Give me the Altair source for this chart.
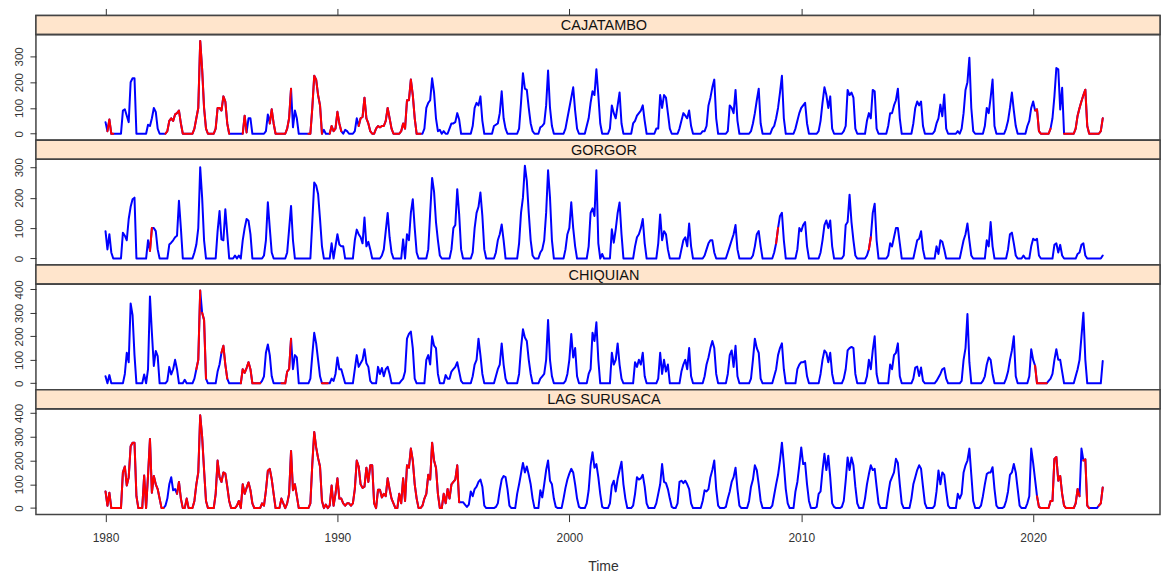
import altair as alt
import pandas as pd

START_YEAR = 1980
STATIONS = ["CAJATAMBO", "GORGOR", "CHIQUIAN", "LAG  SURUSACA"]
X_TICKS = [1980, 1990, 2000, 2010, 2020]
Y_TICKS = [[0, 100, 200, 300], [0, 100, 200, 300], [0, 100, 200, 300, 400], [0, 100, 200, 300, 400]]

# monthly precipitation, Jan 1980 .. Jan 2023 (one row per year)
CAJATAMBO = [
    45, 10, 55, 0, 0, 0, 0, 0, 0, 90, 95, 70,
    45, 200, 215, 215, 0, 0, 0, 0, 0, 0, 35, 30,
    60, 100, 85, 20, 0, 0, 0, 0, 10, 50, 60, 50,
    75, 80, 90, 40, 0, 0, 0, 0, 0, 0, 20, 60,
    100, 360, 250, 100, 20, 0, 0, 0, 0, 20, 100, 100,
    90, 145, 125, 40, 0, 0, 0, 0, 0, 0, 0, 0,
    70, 5, 60, 60, 0, 0, 0, 0, 0, 0, 0, 10,
    75, 40, 95, 40, 0, 0, 0, 0, 0, 0, 20, 60,
    175, 25, 90, 60, 0, 0, 0, 0, 0, 0, 0, 100,
    225, 210, 150, 110, 0, 15, 0, 0, 0, 30, 10, 20,
    85, 40, 10, 0, 15, 10, 0, 0, 0, 10, 60, 30,
    60, 65, 140, 60, 40, 10, 0, 0, 20, 30, 25, 30,
    30, 50, 100, 60, 20, 0, 0, 0, 0, 10, 40, 20,
    130, 130, 210, 150, 60, 0, 0, 0, 0, 20, 100, 120,
    130, 215, 160, 60, 10, 15, 0, 10, 0, 0, 20, 40,
    40, 45, 80, 55, 0, 0, 0, 0, 0, 0, 30, 100,
    120, 110, 145, 50, 0, 0, 0, 0, 0, 30, 35, 40,
    80, 165, 60, 20, 0, 0, 0, 0, 0, 0, 20, 120,
    235, 175, 170, 100, 40, 10, 0, 0, 0, 25, 30, 40,
    110, 245, 100, 30, 0, 0, 0, 0, 0, 0, 20, 60,
    100, 140, 180, 90, 20, 0, 0, 0, 0, 30, 60, 120,
    165, 150, 250, 150, 40, 0, 0, 0, 0, 20, 110, 80,
    60, 110, 160, 40, 0, 0, 0, 0, 0, 40, 50, 70,
    80, 90, 110, 50, 0, 0, 0, 0, 0, 20, 20, 150,
    100, 150, 140, 80, 20, 0, 0, 0, 0, 20, 50, 80,
    70, 60, 90, 30, 0, 0, 0, 0, 0, 10, 10, 30,
    110, 140, 180, 210, 60, 0, 0, 0, 0, 0, 10, 110,
    100, 80, 170, 50, 0, 0, 0, 0, 0, 0, 10, 40,
    80, 130, 175, 40, 0, 0, 0, 0, 0, 20, 30, 60,
    100, 160, 225, 60, 0, 0, 0, 0, 0, 20, 50, 80,
    100, 110, 120, 40, 0, 0, 0, 0, 0, 10, 50, 120,
    180, 150, 100, 145, 20, 0, 0, 0, 0, 0, 10, 30,
    170, 150, 160, 140, 20, 0, 0, 0, 0, 0, 50, 80,
    60, 170, 165, 20, 0, 0, 0, 0, 0, 30, 80, 80,
    110, 130, 175, 60, 0, 0, 0, 0, 0, 0, 40, 100,
    125, 110, 125, 30, 0, 0, 0, 0, 0, 10, 40, 60,
    113, 68, 152, 20, 0, 0, 0, 0, 0, 10, 0, 20,
    80, 170, 200, 295, 100, 10, 0, 0, 0, 0, 0, 30,
    100, 80, 140, 210, 30, 0, 0, 0, 0, 0, 20, 50,
    100, 160, 90, 30, 0, 0, 0, 0, 0, 30, 50, 100,
    125, 90, 95, 10, 0, 0, 0, 0, 0, 20, 60, 145,
    255, 250, 94, 178, 0, 0, 0, 0, 0, 0, 20, 70,
    100, 126, 150, 171, 30, 0, 0, 0, 0, 0, 0, 10,
    60,
]

GORGOR = [
    90, 30, 80, 20, 0, 0, 0, 0, 0, 85, 75, 60,
    130, 170, 195, 200, 0, 0, 0, 0, 0, 0, 60, 25,
    100, 100, 90, 30, 0, 0, 0, 0, 0, 46, 52, 60,
    70, 75, 190, 100, 0, 0, 0, 0, 0, 0, 20, 46,
    100, 300, 200, 60, 0, 0, 0, 0, 0, 0, 90, 156,
    63, 60, 162, 80, 0, 0, 0, 10, 0, 10, 0, 60,
    100, 130, 124, 80, 0, 0, 0, 0, 0, 0, 10, 60,
    185, 100, 20, 0, 0, 0, 0, 0, 0, 0, 20, 96,
    173, 60, 0, 0, 0, 0, 0, 0, 0, 0, 0, 120,
    250, 240, 212, 130, 40, 0, 0, 0, 0, 50, 0, 40,
    80, 46, 40, 40, 0, 0, 0, 0, 0, 60, 95, 80,
    70, 50, 135, 40, 55, 30, 0, 0, 0, 0, 0, 10,
    30, 90, 150, 70, 20, 0, 0, 0, 0, 0, 63, 0,
    80, 60, 150, 195, 100, 20, 0, 0, 0, 0, 0, 30,
    150, 265, 220, 120, 60, 10, 0, 0, 0, 0, 0, 30,
    100, 110, 228, 145, 30, 0, 0, 0, 0, 0, 20, 100,
    150, 170, 217, 140, 30, 0, 0, 0, 0, 0, 20, 60,
    80, 112, 60, 0, 0, 0, 0, 0, 0, 0, 50, 150,
    200, 305, 255, 150, 60, 10, 0, 0, 0, 20, 30, 60,
    150, 290, 200, 60, 0, 0, 0, 0, 0, 0, 30, 80,
    100, 185, 100, 40, 0, 0, 0, 0, 0, 0, 40, 150,
    165, 140, 290, 50, 0, 15, 0, 0, 0, 0, 96, 52,
    96, 150, 184, 80, 0, 0, 0, 0, 0, 0, 40, 70,
    80, 100, 130, 50, 0, 0, 0, 0, 0, 0, 50, 145,
    60, 90, 80, 30, 0, 0, 0, 0, 0, 0, 30, 60,
    70, 40, 115, 40, 0, 0, 0, 0, 0, 0, 10, 30,
    50, 60, 60, 20, 0, 0, 0, 0, 0, 0, 20, 40,
    60, 80, 110, 30, 0, 0, 0, 0, 0, 0, 0, 10,
    40, 80, 90, 40, 0, 0, 0, 0, 0, 0, 20, 50,
    100, 140, 150, 60, 0, 0, 0, 0, 0, 0, 30, 100,
    90, 110, 120, 40, 0, 0, 0, 0, 0, 0, 20, 60,
    110, 125, 100, 125, 40, 0, 0, 0, 0, 0, 10, 110,
    120, 210, 120, 60, 10, 0, 0, 0, 0, 0, 10, 30,
    70, 150, 180, 60, 0, 0, 0, 0, 0, 10, 50, 40,
    70, 100, 100, 50, 0, 0, 0, 0, 0, 0, 0, 30,
    60, 65, 90, 30, 0, 0, 0, 0, 0, 0, 40, 15,
    60, 55, 30, 0, 0, 0, 0, 0, 0, 0, 0, 30,
    60, 80, 115, 60, 10, 0, 0, 0, 0, 0, 0, 0,
    60, 40, 120, 40, 0, 0, 0, 0, 0, 0, 0, 30,
    80, 85, 50, 10, 0, 0, 0, 10, 0, 0, 0, 40,
    65, 60, 65, 10, 0, 0, 0, 0, 0, 0, 0, 45,
    50, 20, 45, 10, 0, 0, 0, 0, 0, 0, 0, 15,
    20, 45, 50, 10, 0, 0, 0, 0, 0, 0, 0, 0,
    10,
]

CHIQUIAN = [
    30, 0, 35, 0, 0, 0, 0, 0, 0, 0, 40, 130,
    90, 340, 290, 120, 0, 0, 0, 0, 38, 0, 60, 370,
    215, 74, 138, 116, 0, 0, 0, 0, 10, 70, 38, 60,
    100, 60, 0, 0, 0, 15, 0, 0, 0, 0, 20, 60,
    100, 395, 300, 270, 20, 0, 0, 0, 0, 0, 50, 80,
    130, 160, 80, 20, 0, 0, 0, 0, 0, 0, 0, 60,
    45, 65, 90, 60, 0, 0, 0, 0, 0, 10, 30, 130,
    165, 120, 30, 0, 0, 0, 0, 0, 0, 0, 50, 60,
    190, 60, 120, 110, 0, 0, 0, 0, 0, 0, 20, 120,
    215, 170, 100, 30, 0, 0, 0, 0, 0, 20, 10, 40,
    110, 60, 60, 30, 0, 0, 0, 0, 0, 60, 120, 70,
    85, 100, 145, 85, 70, 10, 0, 0, 0, 70, 40, 65,
    30, 60, 70, 40, 0, 0, 0, 0, 0, 10, 20, 50,
    190, 210, 220, 150, 20, 0, 0, 0, 0, 0, 100, 120,
    80, 200, 160, 150, 40, 0, 0, 0, 35, 20, 20, 50,
    60, 70, 90, 50, 10, 0, 0, 0, 0, 0, 30, 80,
    100, 190, 120, 40, 0, 0, 0, 0, 0, 0, 30, 60,
    80, 170, 80, 20, 0, 0, 0, 0, 0, 0, 40, 150,
    230, 195, 180, 100, 40, 0, 0, 0, 0, 20, 30, 40,
    100, 270, 100, 30, 0, 0, 0, 0, 0, 0, 10, 40,
    100, 210, 110, 150, 30, 0, 0, 0, 0, 0, 40, 60,
    215, 180, 260, 100, 0, 0, 0, 0, 0, 0, 130, 80,
    100, 170, 80, 20, 0, 0, 0, 0, 0, 0, 90, 70,
    100, 80, 130, 30, 0, 0, 0, 0, 0, 0, 20, 130,
    40, 100, 50, 80, 0, 0, 0, 0, 0, 0, 50, 80,
    100, 60, 150, 30, 0, 0, 0, 0, 0, 0, 30, 80,
    110, 150, 180, 150, 40, 0, 0, 0, 0, 0, 40, 120,
    140, 70, 160, 30, 0, 0, 0, 0, 0, 0, 20, 100,
    190, 150, 130, 20, 0, 0, 0, 0, 0, 0, 30, 60,
    120, 150, 170, 60, 0, 0, 0, 0, 0, 0, 60, 80,
    90, 90, 95, 30, 0, 0, 0, 0, 0, 0, 40, 100,
    140, 130, 90, 130, 40, 0, 0, 0, 0, 0, 20, 60,
    140, 150, 155, 150, 40, 0, 0, 0, 0, 0, 30, 100,
    60, 140, 200, 40, 0, 0, 0, 0, 0, 0, 80, 60,
    120, 130, 170, 30, 0, 0, 0, 0, 0, 0, 20, 67,
    71, 31, 67, 10, 0, 0, 0, 0, 0, 0, 10, 25,
    40, 60, 65, 20, 0, 0, 0, 0, 0, 0, 0, 10,
    100, 150, 295, 90, 0, 0, 0, 0, 0, 0, 10, 30,
    80, 110, 100, 40, 0, 0, 0, 0, 0, 0, 20, 50,
    100, 140, 200, 30, 0, 0, 0, 0, 0, 0, 30, 145,
    100, 75, 0, 0, 0, 0, 0, 0, 10, 20, 40, 100,
    145, 100, 100, 50, 0, 0, 0, 0, 0, 0, 30, 60,
    100, 200, 300, 100, 0, 0, 0, 0, 0, 0, 0, 0,
    95,
]

LAG_SURUSACA = [
    70, 10, 65, 0, 0, 0, 0, 0, 0, 150, 175, 95,
    130, 260, 275, 275, 50, 0, 0, 0, 137, 0, 137, 290,
    65, 135, 100, 80, 40, 0, 0, 10, 40, 100, 130, 75,
    80, 60, 110, 40, 0, 0, 40, 0, 0, 0, 30, 100,
    150, 390, 300, 160, 30, 0, 0, 0, 0, 60, 200, 130,
    110, 150, 145, 90, 30, 0, 0, 0, 10, 30, 0, 100,
    60, 85, 108, 75, 20, 0, 0, 0, 0, 20, 10, 73,
    157, 165, 122, 60, 0, 0, 0, 40, 20, 0, 20, 60,
    240, 75, 100, 50, 0, 0, 0, 0, 0, 0, 20, 185,
    320, 255, 210, 175, 30, 0, 15, 0, 10, 95, 10, 60,
    125, 40, 40, 20, 10, 20, 20, 10, 20, 80, 200, 175,
    100, 85, 90, 170, 110, 180, 180, 20, 0, 77, 77, 45,
    60, 50, 125, 80, 40, 20, 0, 0, 60, 20, 125, 30,
    180, 170, 250, 200, 100, 40, 0, 0, 10, 40, 60, 140,
    120, 275, 200, 170, 60, 0, 0, 60, 20, 80, 40, 100,
    110, 120, 180, 25, 25, 25, 15, 5, 15, 70, 50, 80,
    90, 110, 120, 90, 10, 0, 0, 0, 0, 0, 5, 20,
    75, 120, 135, 130, 80, 10, 0, 0, 0, 60, 100, 145,
    190, 150, 175, 140, 100, 40, 0, 0, 0, 75, 45, 100,
    160, 200, 115, 100, 40, 5, 0, 0, 0, 40, 85, 120,
    145, 165, 150, 100, 40, 5, 0, 0, 0, 20, 75, 180,
    235, 170, 185, 130, 60, 5, 0, 0, 0, 20, 95, 115,
    70, 123, 160, 195, 100, 40, 0, 0, 0, 10, 60, 130,
    120, 125, 140, 90, 20, 0, 0, 0, 0, 20, 60, 100,
    185, 110, 105, 80, 40, 5, 0, 0, 20, 110, 115, 105,
    115, 100, 80, 20, 0, 0, 0, 0, 0, 30, 75, 70,
    80, 130, 160, 200, 80, 10, 0, 0, 0, 5, 40, 70,
    110, 130, 170, 80, 10, 0, 0, 0, 0, 30, 90, 120,
    180, 160, 100, 30, 0, 0, 0, 0, 0, 10, 55, 100,
    140, 200, 275, 185, 80, 20, 0, 0, 0, 70, 110, 180,
    255, 185, 190, 100, 30, 0, 0, 0, 5, 60, 70, 158,
    228, 160, 220, 130, 20, 5, 0, 0, 0, 5, 30, 115,
    213, 160, 213, 180, 90, 20, 0, 0, 0, 40, 100, 143,
    180, 160, 165, 90, 20, 0, 0, 0, 0, 60, 110, 130,
    150, 207, 190, 100, 20, 0, 0, 0, 0, 40, 100, 130,
    160, 180, 165, 90, 20, 0, 0, 0, 0, 10, 70, 158,
    100, 150, 140, 70, 10, 0, 0, 0, 0, 60, 40, 60,
    150, 180, 200, 250, 140, 30, 0, 0, 0, 10, 50, 100,
    143, 150, 150, 172, 80, 10, 0, 0, 0, 5, 30, 70,
    140, 150, 185, 150, 80, 10, 0, 0, 0, 20, 50, 250,
    190, 120, 50, 5, 0, 0, 0, 0, 0, 30, 30, 207,
    215, 115, 135, 60, 10, 0, 0, 0, 0, 0, 20, 80,
    50, 250, 200, 205, 10, 0, 0, 0, 0, 0, 10, 20,
    87,
]

# periods drawn in red (filled values), inclusive month ranges
CAJATAMBO_FILLED = [("1980-02", "1980-05"), ("1982-08", "1985-05"), ("1985-12", "1986-02"),
                    ("1987-02", "1988-01"), ("1988-10", "1989-05"), ("1989-09", "1990-03"),
                    ("1990-12", "1993-08"), ("2020-02", "2020-10"), ("2021-05", "2023-01")]
GORGOR_FILLED = [("1981-12", "1982-01"), ("2008-12", "2009-01"), ("2012-12", "2013-01")]
CHIQUIAN_FILLED = [("1983-12", "1984-02"), ("1984-03", "1984-05"), ("1985-01", "1985-04"),
                   ("1985-11", "1986-09"), ("1987-08", "1988-01"), ("1989-05", "1989-08"),
                   ("2020-02", "2020-08")]
LAG_SURUSACA_FILLED = [("1980-01", "1982-07"), ("1983-02", "1995-04"), ("2020-03", "2022-01"),
                       ("2022-03", "2022-06"), ("2022-11", "2023-01")]

SERIES = [CAJATAMBO, GORGOR, CHIQUIAN, LAG_SURUSACA]
FILLED = [CAJATAMBO_FILLED, GORGOR_FILLED, CHIQUIAN_FILLED, LAG_SURUSACA_FILLED]

FONT = "Liberation Sans"
W = 1126
STRIP_H = 19
PANEL_H = 106
XDOM = [1977.0, 2025.47]
FRAME = "#444444"
TXT = "#333333"


def idx(ym):
    y, m = ym.split("-")
    return (int(y) - START_YEAR) * 12 + int(m) - 1


def xscale():
    return alt.Scale(domain=XDOM, nice=False, zero=False)


def strip(name, top_axis=False):
    base = alt.Chart(pd.DataFrame({"label": [name], "t": [XDOM[0]]}))
    rect = base.mark_rect(fill="#FFE5CC", stroke=FRAME, strokeWidth=1.5).encode(
        x=alt.value(0), x2=alt.value(W), y=alt.value(0), y2=alt.value(STRIP_H))
    text = base.mark_text(font=FONT, fontSize=14.5, color="#111111", baseline="middle").encode(
        text="label:N", x=alt.value(W / 2 + 6), y=alt.value(STRIP_H / 2 + 1))
    layers = [rect, text]
    if top_axis:
        ax = base.mark_point(opacity=0).encode(
            x=alt.X("t:Q", scale=xscale(),
                    axis=alt.Axis(orient="top", values=X_TICKS, labels=False, domain=False,
                                  ticks=True, tickSize=7, tickColor=TXT, tickWidth=1,
                                  grid=False, title=None)),
            y=alt.value(0))
        layers.append(ax)
    return alt.layer(*layers).properties(width=W, height=STRIP_H)


def panel(values, filled, yticks, bottom=False):
    t = [START_YEAR + i / 12 for i in range(len(values))]
    df = pd.DataFrame({"t": t, "v": values})
    rows = []
    for k, (a, b) in enumerate(filled):
        for i in range(idx(a), min(idx(b), len(values) - 1) + 1):
            rows.append({"t": t[i], "v": values[i], "seg": k})
    dfr = pd.DataFrame(rows)
    vmax = max(values)
    ydom = [-0.07 * vmax, 1.07 * vmax]
    if bottom:
        xaxis = alt.Axis(values=X_TICKS, format="d", tickSize=7, tickColor=TXT, tickWidth=1,
                         labelFont=FONT, labelFontSize=12, labelColor=TXT, labelPadding=11,
                         domain=False, grid=False, title="Time", titleFont=FONT,
                         titleFontSize=14, titleFontWeight="normal", titleColor=TXT,
                         titlePadding=16, titleX=568)
    else:
        xaxis = None
    x = alt.X("t:Q", scale=xscale(), axis=xaxis)
    y = alt.Y("v:Q", scale=alt.Scale(domain=ydom, nice=False, zero=False), title=None,
              axis=alt.Axis(values=yticks, labelAngle=-90, labelAlign="center",
                            labelBaseline="bottom", labelFont=FONT, labelFontSize=11.5,
                            labelColor=TXT, labelPadding=5, labelFlush=False,
                            tickSize=6, tickColor=TXT, tickWidth=1, domain=False, grid=False))
    blue = alt.Chart(df).mark_line(color="#0000FF", strokeWidth=2, strokeJoin="round",
                                   strokeCap="round").encode(x=x, y=y)
    red = alt.Chart(dfr).mark_line(color="#FF0000", strokeWidth=2, strokeJoin="round",
                                   strokeCap="round").encode(x=x, y=y, detail="seg:N")
    return alt.layer(blue, red).properties(width=W, height=PANEL_H)


parts = []
for s, (name, vals, fil, yt) in enumerate(zip(STATIONS, SERIES, FILLED, Y_TICKS)):
    parts.append(strip(name, top_axis=(s == 0)))
    parts.append(panel(vals, fil, yt, bottom=(s == len(STATIONS) - 1)))

chart = alt.vconcat(*parts, spacing=0, bounds="flush").properties(
    padding={"left": 13, "top": 6, "right": 2, "bottom": 2},
    background="#FFFFFF",
).configure_view(stroke=FRAME, strokeWidth=1.5)

chart.save("out.html", embed_options={"renderer": "svg", "actions": False})
